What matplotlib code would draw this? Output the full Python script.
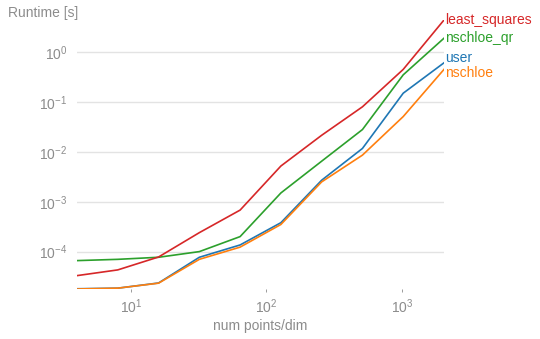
import matplotlib
matplotlib.use("Agg")
import matplotlib.pyplot as plt

n_points = [4, 8, 16, 32, 64, 128, 256, 512, 1024, 2048]
user = [1.8e-5, 1.85e-5, 2.35e-5, 7.7e-5, 1.36e-4, 3.8e-4, 2.7e-3, 1.17e-2, 0.15, 0.61]
nschloe = [1.78e-5, 1.85e-5, 2.33e-5, 7.0e-5, 1.23e-4, 3.5e-4, 2.5e-3, 8.6e-3, 0.051, 0.45]
nschloe_qr = [6.6e-5, 7.0e-5, 7.7e-5, 1.0e-4, 2.0e-4, 1.5e-3, 6.5e-3, 0.028, 0.35, 1.9]
least_squares = [3.3e-5, 4.3e-5, 7.8e-5, 2.4e-4, 6.8e-4, 5.2e-3, 0.0215, 0.08, 0.45, 4.4]

series = [
    ("user", user, "#1f77b4", 3.3),
    ("nschloe", nschloe, "#ff7f0e", -2.3),
    ("nschloe_qr", nschloe_qr, "#2ca02c", 0),
    ("least_squares", least_squares, "#d62728", 0),
]

plt.rcParams["font.family"] = ["Liberation Sans", "DejaVu Sans"]
gray = "#8c8c8c"

fig = plt.figure(figsize=(5.4, 3.39), dpi=100)
ax = fig.add_axes([77 / 540, 1 - 289 / 339, (444 - 77) / 540, (289 - 20) / 339])

for name, vals, color, dy in series:
    ax.plot(n_points, vals, color=color, lw=1.2)
    ax.annotate(name, xy=(n_points[-1], vals[-1]), xytext=(1, dy),
                textcoords="offset points", color=color, fontsize=10,
                va="center", ha="left", annotation_clip=False)

ax.set_xscale("log")
ax.set_yscale("log")
ax.set_xlim(n_points[0], n_points[-1])
ax.set_ylim(min(min(s[1]) for s in series), max(max(s[1]) for s in series))

for sp in ax.spines.values():
    sp.set_visible(False)
ax.grid(axis="y", which="major", color="#e3e3e3", lw=1)
ax.grid(axis="x", visible=False)
ax.tick_params(axis="y", which="both", length=0, colors=gray, labelsize=10, pad=7)
ax.tick_params(axis="x", which="major", length=2, width=0.6, colors=gray, labelsize=10, pad=4)
ax.tick_params(axis="x", which="minor", length=0)
ax.set_xlabel("num points/dim", color=gray, fontsize=10, labelpad=2)
fig.text(8 / 540, 1 - 13 / 339, "Runtime [s]", color=gray, fontsize=10, va="center", ha="left")

fig.savefig("out.png", dpi=100)
